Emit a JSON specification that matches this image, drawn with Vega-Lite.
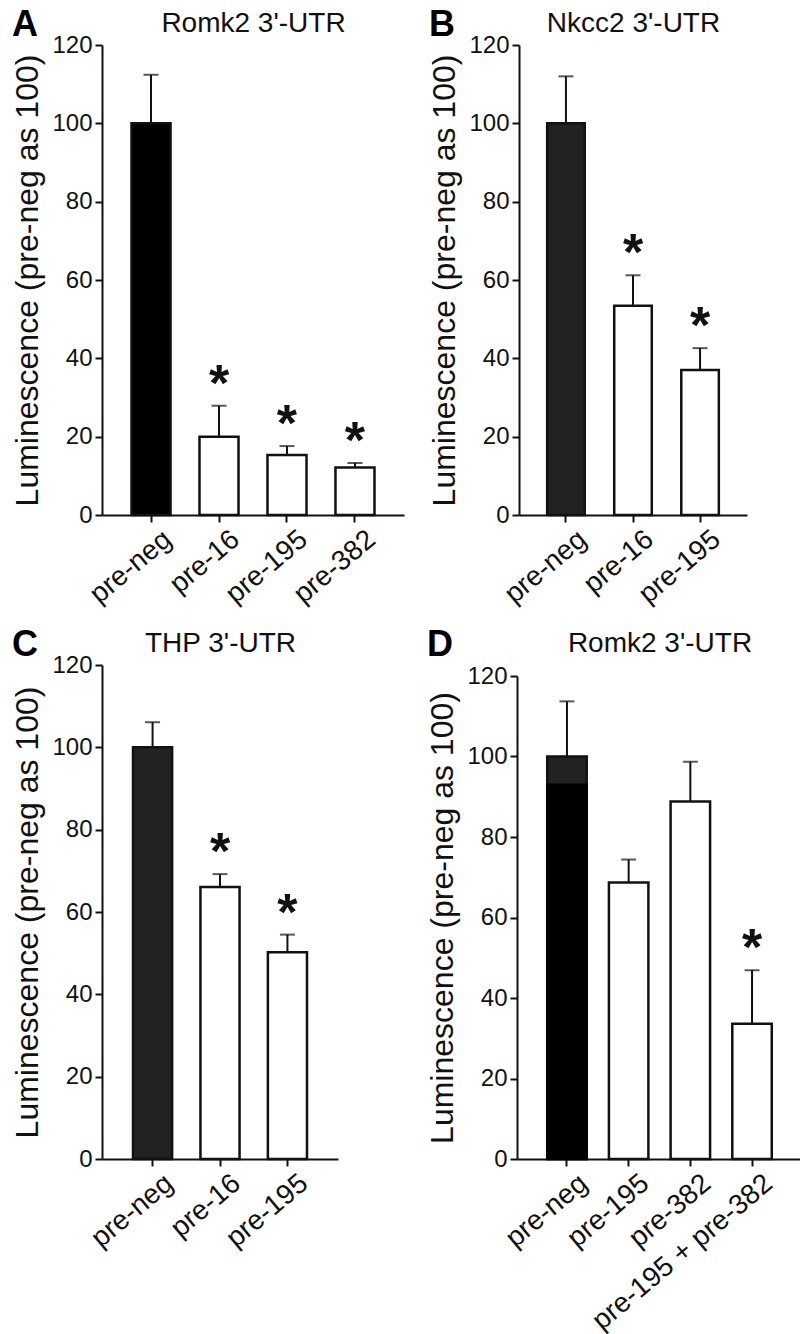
{
  "$schema": "https://vega.github.io/schema/vega-lite/v6.json",
  "padding": {"left": 11, "top": 7, "right": 0, "bottom": 0},
  "background": "white",
  "config": {
    "font": "Liberation Sans",
    "view": {"stroke": null},
    "axis": {"domainColor": "#111", "domainWidth": 2, "tickColor": "#111", "tickWidth": 2, "tickSize": 7, "labelColor": "#111", "titleColor": "#111", "grid": false, "titleFontWeight": "normal", "labelLimit": 400},
    "axisY": {"labelFontSize": 24, "titleFontSize": 32, "labelPadding": 3, "titlePadding": 7},
    "axisX": {"labelFontSize": 28, "labelAngle": -40, "labelAlign": "right", "labelBaseline": "top", "labelPadding": 3, "labelOffset": 8},
    "title": {"fontSize": 36, "fontWeight": "bold", "color": "#000", "anchor": "start", "frame": "bounds", "offset": -35, "dx": 0}
  },
  "vconcat": [
    {
      "hconcat": [
        {
          "width": 302, "height": 470,
          "title": {"text": "A"},
          "data": {"values": [
            {"group": "pre-neg", "value": 100, "err": 112.4, "sig": false},
            {"group": "pre-16", "value": 20, "err": 27.9, "sig": true},
            {"group": "pre-195", "value": 15.3, "err": 17.6, "sig": true},
            {"group": "pre-382", "value": 12.1, "err": 13.3, "sig": true}
          ]},
          "resolve": {"axis": {"x": "independent"}},
          "layer": [
            {"mark": {"type": "rule", "strokeWidth": 2, "color": "#111"},
             "encoding": {"x": {"field": "group", "type": "nominal", "sort": null, "scale": {"paddingInner": 0.426, "paddingOuter": 0.434}, "axis": {"title": null}},
                          "y": {"field": "value", "type": "quantitative", "scale": {"domain": [0, 120], "nice": false}, "title": "Luminescence (pre-neg as 100)", "axis": {"values": [0, 20, 40, 60, 80, 100, 120]}},
                          "y2": {"field": "err"}}},
            {"mark": {"type": "tick", "thickness": 2, "size": 15, "color": "#111"},
             "encoding": {"x": {"field": "group", "type": "nominal", "sort": null, "axis": null},
                          "y": {"field": "err", "type": "quantitative", "title": "Luminescence (pre-neg as 100)", "axis": {"values": [0, 20, 40, 60, 80, 100, 120]}}}},
            {"mark": {"type": "bar", "stroke": "#111", "strokeWidth": 2.5},
             "encoding": {"x": {"field": "group", "type": "nominal", "sort": null, "axis": {"orient": "top", "labels": false, "ticks": false, "domain": false, "title": "Romk2 3'-UTR", "titleFontSize": 28, "titlePadding": 8}},
                          "y": {"field": "value", "type": "quantitative", "title": "Luminescence (pre-neg as 100)", "axis": {"values": [0, 20, 40, 60, 80, 100, 120]}},
                          "fill": {"condition": {"test": "datum.group === 'pre-neg'", "value": "#000"}, "value": "#fff"}}},
            {"transform": [{"filter": "datum.sig"}],
             "mark": {"type": "text", "text": "*", "fontSize": 52, "fontWeight": "bold", "baseline": "alphabetic", "dy": -5, "color": "#111"},
             "encoding": {"x": {"field": "group", "type": "nominal", "sort": null, "axis": null},
                          "y": {"field": "err", "type": "quantitative", "title": "Luminescence (pre-neg as 100)", "axis": {"values": [0, 20, 40, 60, 80, 100, 120]}}}}
          ]
        },
        {
          "width": 228, "height": 470,
          "title": {"text": "B"},
          "data": {"values": [
            {"group": "pre-neg", "value": 100, "err": 112, "sig": false},
            {"group": "pre-16", "value": 53.4, "err": 61.2, "sig": true},
            {"group": "pre-195", "value": 37, "err": 42.6, "sig": true}
          ]},
          "resolve": {"axis": {"x": "independent"}},
          "layer": [
            {"mark": {"type": "rule", "strokeWidth": 2, "color": "#111"},
             "encoding": {"x": {"field": "group", "type": "nominal", "sort": null, "scale": {"paddingInner": 0.44, "paddingOuter": 0.42}, "axis": {"title": null}},
                          "y": {"field": "value", "type": "quantitative", "scale": {"domain": [0, 120], "nice": false}, "title": "Luminescence (pre-neg as 100)", "axis": {"values": [0, 20, 40, 60, 80, 100, 120]}},
                          "y2": {"field": "err"}}},
            {"mark": {"type": "tick", "thickness": 2, "size": 15, "color": "#111"},
             "encoding": {"x": {"field": "group", "type": "nominal", "sort": null, "axis": null},
                          "y": {"field": "err", "type": "quantitative", "title": "Luminescence (pre-neg as 100)", "axis": {"values": [0, 20, 40, 60, 80, 100, 120]}}}},
            {"mark": {"type": "bar", "stroke": "#111", "strokeWidth": 2.5},
             "encoding": {"x": {"field": "group", "type": "nominal", "sort": null, "axis": {"orient": "top", "labels": false, "ticks": false, "domain": false, "title": "Nkcc2 3'-UTR", "titleFontSize": 28, "titlePadding": 8}},
                          "y": {"field": "value", "type": "quantitative", "title": "Luminescence (pre-neg as 100)", "axis": {"values": [0, 20, 40, 60, 80, 100, 120]}},
                          "fill": {"condition": {"test": "datum.group === 'pre-neg'", "value": "#222"}, "value": "#fff"}}},
            {"transform": [{"filter": "datum.sig"}],
             "mark": {"type": "text", "text": "*", "fontSize": 52, "fontWeight": "bold", "baseline": "alphabetic", "dy": -5, "color": "#111"},
             "encoding": {"x": {"field": "group", "type": "nominal", "sort": null, "axis": null},
                          "y": {"field": "err", "type": "quantitative", "title": "Luminescence (pre-neg as 100)", "axis": {"values": [0, 20, 40, 60, 80, 100, 120]}}}}
          ]
        }
      ],
      "spacing": 24
    },
    {
      "hconcat": [
        {
          "width": 236, "height": 494,
          "title": {"text": "C"},
          "data": {"values": [
            {"group": "pre-neg", "value": 100, "err": 106.1, "sig": false},
            {"group": "pre-16", "value": 66.1, "err": 69.2, "sig": true},
            {"group": "pre-195", "value": 50.2, "err": 54.5, "sig": true}
          ]},
          "resolve": {"axis": {"x": "independent"}},
          "layer": [
            {"mark": {"type": "rule", "strokeWidth": 2, "color": "#111"},
             "encoding": {"x": {"field": "group", "type": "nominal", "sort": null, "scale": {"paddingInner": 0.42, "paddingOuter": 0.46}, "axis": {"title": null}},
                          "y": {"field": "value", "type": "quantitative", "scale": {"domain": [0, 120], "nice": false}, "title": "Luminescence (pre-neg as 100)", "axis": {"values": [0, 20, 40, 60, 80, 100, 120]}},
                          "y2": {"field": "err"}}},
            {"mark": {"type": "tick", "thickness": 2, "size": 15, "color": "#111"},
             "encoding": {"x": {"field": "group", "type": "nominal", "sort": null, "axis": null},
                          "y": {"field": "err", "type": "quantitative", "title": "Luminescence (pre-neg as 100)", "axis": {"values": [0, 20, 40, 60, 80, 100, 120]}}}},
            {"mark": {"type": "bar", "stroke": "#111", "strokeWidth": 2.5},
             "encoding": {"x": {"field": "group", "type": "nominal", "sort": null, "axis": {"orient": "top", "labels": false, "ticks": false, "domain": false, "title": "THP 3'-UTR", "titleFontSize": 28, "titlePadding": 8}},
                          "y": {"field": "value", "type": "quantitative", "title": "Luminescence (pre-neg as 100)", "axis": {"values": [0, 20, 40, 60, 80, 100, 120]}},
                          "fill": {"condition": {"test": "datum.group === 'pre-neg'", "value": "#222"}, "value": "#fff"}}},
            {"transform": [{"filter": "datum.sig"}],
             "mark": {"type": "text", "text": "*", "fontSize": 52, "fontWeight": "bold", "baseline": "alphabetic", "dy": -5, "color": "#111"},
             "encoding": {"x": {"field": "group", "type": "nominal", "sort": null, "axis": null},
                          "y": {"field": "err", "type": "quantitative", "title": "Luminescence (pre-neg as 100)", "axis": {"values": [0, 20, 40, 60, 80, 100, 120]}}}}
          ]
        },
        {
          "width": 285, "height": 494,
          "title": {"text": "D"},
          "data": {"values": [
            {"group": "pre-neg", "value": 100, "inner": 93, "err": 113.7, "sig": false},
            {"group": "pre-195", "value": 68.7, "inner": null, "err": 74.4, "sig": false},
            {"group": "pre-382", "value": 88.8, "inner": null, "err": 98.7, "sig": false},
            {"group": "pre-195 + pre-382", "value": 33.6, "inner": null, "err": 46.9, "sig": true}
          ]},
          "resolve": {"axis": {"x": "independent"}},
          "layer": [
            {"mark": {"type": "rule", "strokeWidth": 2, "color": "#111"},
             "encoding": {"x": {"field": "group", "type": "nominal", "sort": null, "scale": {"paddingInner": 0.36, "paddingOuter": 0.49}, "axis": {"title": null}},
                          "y": {"field": "value", "type": "quantitative", "scale": {"domain": [0, 120], "nice": false, "range": [494, 11]}, "title": "Luminescence (pre-neg as 100)", "axis": {"values": [0, 20, 40, 60, 80, 100, 120]}},
                          "y2": {"field": "err"}}},
            {"mark": {"type": "tick", "thickness": 2, "size": 15, "color": "#111"},
             "encoding": {"x": {"field": "group", "type": "nominal", "sort": null, "axis": null},
                          "y": {"field": "err", "type": "quantitative", "title": "Luminescence (pre-neg as 100)", "axis": {"values": [0, 20, 40, 60, 80, 100, 120]}}}},
            {"mark": {"type": "bar", "stroke": "#111", "strokeWidth": 2.5},
             "encoding": {"x": {"field": "group", "type": "nominal", "sort": null, "axis": {"orient": "top", "labels": false, "ticks": false, "domain": false, "title": "Romk2 3'-UTR", "titleFontSize": 28, "titlePadding": 8}},
                          "y": {"field": "value", "type": "quantitative", "title": "Luminescence (pre-neg as 100)", "axis": {"values": [0, 20, 40, 60, 80, 100, 120]}},
                          "fill": {"condition": {"test": "datum.group === 'pre-neg'", "value": "#222"}, "value": "#fff"}}},
            {"mark": {"type": "bar", "fill": "#000", "stroke": "#000", "strokeWidth": 2.5},
             "encoding": {"x": {"field": "group", "type": "nominal", "sort": null, "axis": null},
                          "y": {"field": "inner", "type": "quantitative", "title": "Luminescence (pre-neg as 100)", "axis": {"values": [0, 20, 40, 60, 80, 100, 120]}}}},
            {"transform": [{"filter": "datum.sig"}],
             "mark": {"type": "text", "text": "*", "fontSize": 52, "fontWeight": "bold", "baseline": "alphabetic", "dy": -5, "color": "#111"},
             "encoding": {"x": {"field": "group", "type": "nominal", "sort": null, "axis": null},
                          "y": {"field": "err", "type": "quantitative", "title": "Luminescence (pre-neg as 100)", "axis": {"values": [0, 20, 40, 60, 80, 100, 120]}}}}
          ]
        }
      ],
      "spacing": 88
    }
  ],
  "spacing": 18
}
